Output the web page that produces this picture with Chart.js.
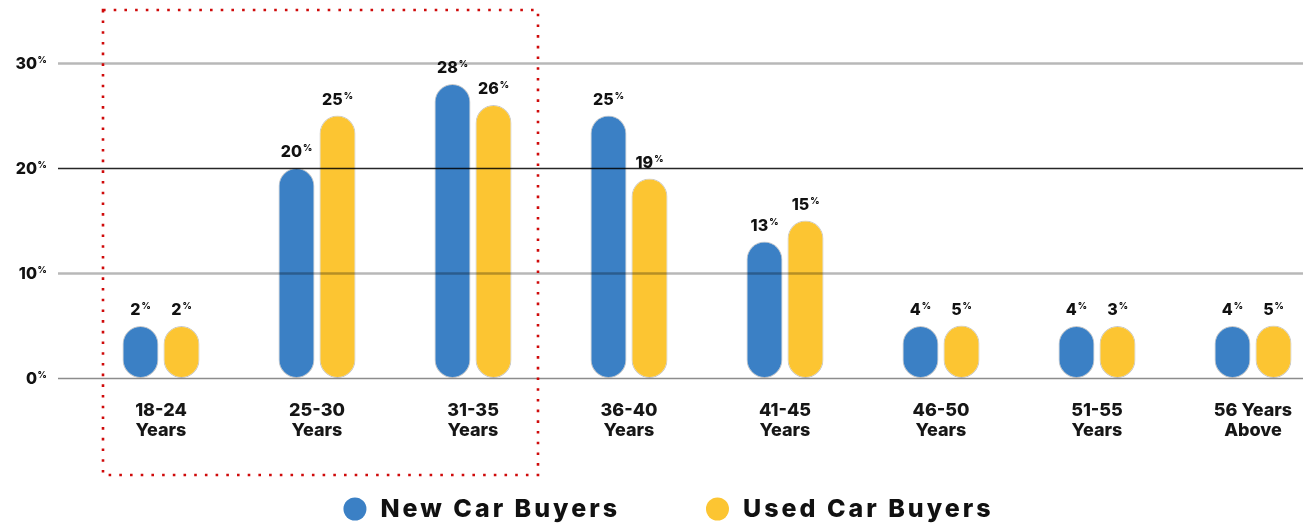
<!DOCTYPE html>
<html>
<head>
<meta charset="utf-8">
<script src="https://cdn.jsdelivr.net/npm/chart.js@4.4.1/dist/chart.umd.min.js"></script>
<style>
  html, body { margin: 0; padding: 0; background: #fff; overflow: hidden; }
  #wrap { width: 1331px; height: 526px; }
</style>
</head>
<body>
<div id="wrap"><canvas id="chart" width="1331" height="526"></canvas></div>
<script>
// ── data ────────────────────────────────────────────────────────────────────
var categories = [
    ["18-24", "Years"], ["25-30", "Years"], ["31-35", "Years"], ["36-40", "Years"],
    ["41-45", "Years"], ["46-50", "Years"], ["51-55", "Years"], ["56 Years", "Above"]
];
var newCarBuyers  = [2, 20, 28, 25, 13, 4, 4, 4];
var usedCarBuyers = [2, 25, 26, 19, 15, 5, 3, 5];
var yTicks        = [0, 10, 20, 30];
var seriesNames   = ["New Car Buyers", "Used Car Buyers"];

var BLUE   = "#3b80c5";
var YELLOW = "#fcc532";
var FONT   = "Inter, Lato, sans-serif";

// ── decorations: grid over bars, y labels with small %, value labels,
//    custom legend and the red dotted highlight box ─────────────────────────
var decor = {
    id: "decor",
    afterDatasetsDraw: function(chart) {
        var ctx = chart.ctx, y = chart.scales.y;
        ctx.save();
        yTicks.forEach(function(v) {
            var py = Math.round(y.getPixelForValue(v)) + 0.5;
            ctx.beginPath();
            ctx.moveTo(58, py);
            ctx.lineTo(chart.width, py);
            if (v === 20) { ctx.strokeStyle = "rgba(0,0,0,0.85)"; ctx.lineWidth = 1.5; }
            else if (v === 0) { ctx.strokeStyle = "rgba(0,0,0,0.45)"; ctx.lineWidth = 1.5; }
            else { ctx.strokeStyle = "rgba(0,0,0,0.28)"; ctx.lineWidth = 2.5; }
            ctx.stroke();

            // tick label "30" + superscript %
            ctx.fillStyle = "#111";
            ctx.textBaseline = "alphabetic";
            ctx.font = "800 16px " + FONT;
            ctx.textAlign = "right";
            ctx.fillText(String(v), 37, py + 5);
            ctx.font = "800 9px " + FONT;
            ctx.textAlign = "left";
            ctx.fillText("%", 37.5, py - 1);
        });

        // value labels above each bar
        chart.data.datasets.forEach(function(ds, di) {
            chart.getDatasetMeta(di).data.forEach(function(bar, i) {
                var num = String(ds.data[i]);
                ctx.font = "800 16px " + FONT;
                var wNum = ctx.measureText(num).width;
                ctx.font = "800 9px " + FONT;
                var wPct = ctx.measureText("%").width;
                var x0 = bar.x - (wNum + wPct + 1) / 2;
                var base = bar.y - 11;
                ctx.fillStyle = "#111";
                ctx.textAlign = "left";
                ctx.font = "800 16px " + FONT;
                ctx.fillText(num, x0, base);
                ctx.font = "800 9px " + FONT;
                ctx.fillText("%", x0 + wNum + 1, base - 6);
            });
        });
        ctx.restore();
    },
    afterDraw: function(chart) {
        var ctx = chart.ctx, x = chart.scales.x;
        ctx.save();

        // red dotted box around the first three age groups
        ctx.strokeStyle = "#cf0a0a";
        ctx.lineWidth = 2.6;
        ctx.setLineDash([2.6, 8.1]);
        var left = Math.round(x.getPixelForValue(0) - 58);
        var right = Math.round(x.getPixelForValue(2) + 65);
        ctx.strokeRect(left, 10, right - left, 465);
        ctx.setLineDash([]);

        // legend
        var r = 11.5, gap = 14, spacing = 86;
        ctx.font = "800 25px " + FONT;
        ctx.letterSpacing = "3px";
        var widths = seriesNames.map(function(s) { return ctx.measureText(s).width; });
        var total = 0;
        widths.forEach(function(w, i) { total += 2 * r + gap + w + (i ? spacing : 0); });
        var cx = chart.width / 2 + 3 - total / 2;
        var cy = 509;
        chart.data.datasets.forEach(function(ds, i) {
            ctx.beginPath();
            ctx.arc(cx + r, cy, r, 0, Math.PI * 2);
            ctx.fillStyle = ds.backgroundColor;
            ctx.fill();
            ctx.fillStyle = "#111";
            ctx.textAlign = "left";
            ctx.textBaseline = "alphabetic";
            ctx.fillText(seriesNames[i], cx + 2 * r + gap, cy + 8);
            cx += 2 * r + gap + widths[i] + spacing;
        });
        ctx.restore();
    }
};

// ── chart ──────────────────────────────────────────────────────────────────
var barStyle = {
    borderRadius: 18,
    borderSkipped: false,
    borderWidth: 1,
    borderColor: "rgba(0,0,0,0.22)",
    minBarLength: 52,
    categoryPercentage: 0.526,
    barPercentage: 0.878
};

new Chart(document.getElementById("chart"), {
    type: "bar",
    data: {
        labels: categories,
        datasets: [
            Object.assign({ label: seriesNames[0], data: newCarBuyers,  backgroundColor: BLUE },   barStyle),
            Object.assign({ label: seriesNames[1], data: usedCarBuyers, backgroundColor: YELLOW }, barStyle)
        ]
    },
    options: {
        responsive: false,
        animation: false,
        layout: { padding: { left: 83, top: 63, right: 0, bottom: 78 } },
        plugins: {
            legend: { display: false },
            tooltip: { enabled: false }
        },
        scales: {
            x: {
                grid: { display: false, drawTicks: false },
                border: { display: false },
                ticks: {
                    color: "#161616",
                    font: { family: FONT, size: 18, weight: "800", lineHeight: 1.15 },
                    padding: 22,
                    maxRotation: 0,
                    autoSkip: false
                },
                afterFit: function(s) { s.height = 70; }
            },
            y: {
                display: false,
                min: 0,
                max: 30
            }
        }
    },
    plugins: [decor]
});
</script>
</body>
</html>
